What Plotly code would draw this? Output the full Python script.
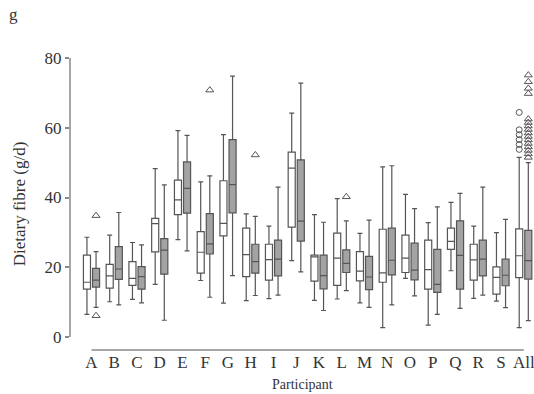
import plotly.graph_objects as go

# Participants and box statistics (g/d) for the two measurement series
participants = ["A", "B", "C", "D", "E", "F", "G", "H", "I", "J",
                "K", "L", "M", "N", "O", "P", "Q", "R", "S", "All"]

# Series 1 (white boxes)
w_low = [6.5, 10.1, 10.8, 15.1, 27.9, 16.2, 9.7, 10.4, 11.0, 21.9,
         10.5, 10.9, 9.8, 2.7, 16.8, 3.4, 19.0, 11.1, 10.3, 2.7]
w_q1 = [13.7, 14.0, 14.8, 24.4, 35.1, 18.3, 29.0, 17.3, 16.3, 31.5,
        16.0, 14.8, 16.1, 15.7, 18.5, 13.7, 25.1, 16.3, 12.3, 17.0]
w_med = [15.7, 17.5, 16.8, 32.5, 39.3, 24.3, 32.6, 23.6, 22.2, 48.4,
         23.0, 22.6, 18.9, 18.4, 22.6, 19.3, 27.4, 22.1, 17.1, 23.3]
w_q3 = [23.5, 20.8, 21.6, 34.0, 45.0, 30.2, 44.8, 31.2, 26.6, 53.0,
        23.5, 29.8, 24.5, 30.9, 29.2, 27.8, 31.2, 26.6, 20.1, 31.0]
w_high = [28.6, 29.2, 27.1, 48.3, 59.2, 44.5, 58.0, 35.3, 31.8, 64.2,
          35.1, 39.7, 29.7, 48.8, 40.9, 32.8, 38.6, 31.8, 29.9, 51.5]

# Series 2 (grey boxes)
g_low = [8.5, 9.2, 9.8, 4.8, 24.7, 11.4, 17.6, 11.9, 12.0, 18.7,
         7.6, 13.3, 8.5, 9.2, 11.8, 6.5, 8.2, 12.0, 8.4, 4.7]
g_q1 = [14.3, 16.5, 13.7, 18.0, 35.5, 23.8, 35.6, 18.3, 17.5, 27.5,
        13.8, 18.5, 13.6, 17.8, 16.4, 12.8, 13.7, 17.5, 14.7, 16.6]
g_med = [16.3, 19.5, 17.3, 24.9, 42.6, 26.7, 43.7, 21.6, 22.3, 33.2,
         17.6, 21.1, 17.2, 22.0, 19.2, 15.1, 23.4, 22.3, 17.7, 21.9]
g_q3 = [19.7, 25.9, 20.2, 28.2, 50.2, 35.4, 56.6, 26.6, 27.8, 50.8,
        23.5, 25.0, 23.1, 31.2, 26.9, 25.1, 33.3, 27.8, 22.3, 30.6]
g_high = [24.5, 35.7, 26.4, 43.6, 57.8, 46.2, 74.8, 34.6, 43.0, 72.8,
          32.9, 33.3, 33.5, 49.1, 36.8, 37.3, 41.2, 43.0, 33.7, 50.0]

# Outlying observations: (participant, value)
w_outliers = [("All", v) for v in [64.4, 59.4, 58.0, 56.6, 55.2, 53.8]]
g_outliers = ([("A", 34.8), ("A", 6.1), ("F", 70.8), ("H", 52.2), ("L", 40.2)]
              + [("All", v) for v in [75.1, 73.2, 71.3, 69.8, 62.5, 61.5, 60.5,
                                       59.5, 58.5, 57.5, 56.5, 55.5, 54.5,
                                       53.5, 52.5, 51.5]])

FONT = "Liberation Serif"
LINE = "#555555"
GREY_FILL = "#a3a3a3"
AXIS = "#8a8a8a"
SHIFT = 0.2      # horizontal offset of each series from the category centre
BOX_W = 0.31

idx = list(range(len(participants)))
pos = {p: i for i, p in enumerate(participants)}

fig = go.Figure()


def add_series(low, q1, med, q3, high, shift, fill):
    fig.add_trace(go.Box(
        x=[i + shift for i in idx],
        lowerfence=low, q1=q1, median=med, q3=q3, upperfence=high,
        width=BOX_W, whiskerwidth=0.7,
        fillcolor=fill, line=dict(color=LINE, width=1.2),
        boxpoints=False, showlegend=False, hoverinfo="skip",
    ))


add_series(w_low, w_q1, w_med, w_q3, w_high, -SHIFT, "white")
add_series(g_low, g_q1, g_med, g_q3, g_high, SHIFT, GREY_FILL)

fig.add_trace(go.Scatter(
    x=[pos[p] - SHIFT for p, _ in w_outliers], y=[v for _, v in w_outliers],
    mode="markers",
    marker=dict(symbol="circle-open", size=6, color=LINE, line=dict(width=1)),
    showlegend=False, hoverinfo="skip",
))
fig.add_trace(go.Scatter(
    x=[pos[p] + SHIFT for p, _ in g_outliers], y=[v for _, v in g_outliers],
    mode="markers",
    marker=dict(symbol="triangle-up-open", size=7, color=LINE, line=dict(width=1)),
    showlegend=False, hoverinfo="skip",
))

# Detached axis lines: y from 0 to 80, x from first to last participant
fig.add_shape(type="line", xref="paper", yref="y", x0=0, x1=0, y0=0, y1=80,
              line=dict(color=AXIS, width=1.5))
fig.add_shape(type="line", xref="x", yref="paper", x0=idx[0], x1=idx[-1],
              y0=0, y1=0, line=dict(color=AXIS, width=1.5))

fig.add_annotation(text="g", xref="paper", yref="paper", x=-0.135, y=1.15,
                   xanchor="left", yanchor="middle", showarrow=False,
                   font=dict(family=FONT, size=17, color="#333"))
fig.add_annotation(text="Participant", xref="paper", yref="paper",
                   x=0.5, y=-0.118, xanchor="center", yanchor="middle",
                   showarrow=False, font=dict(family=FONT, size=14, color="#333"))

fig.update_layout(
    width=534, height=394,
    margin=dict(l=70, r=0, t=58, b=44),
    paper_bgcolor="white", plot_bgcolor="white",
    font=dict(family=FONT, size=16, color="#333"),
    xaxis=dict(
        range=[-0.945, 19.45], tickmode="array", tickvals=idx,
        ticktext=participants, showgrid=False, zeroline=False,
        showline=False, ticks="",
        tickfont=dict(size=17), ticklabeloverflow="allow",
    ),
    yaxis=dict(
        range=[-3.73, 80], tickvals=[0, 20, 40, 60, 80],
        showgrid=False, zeroline=False, showline=False,
        ticks="outside", ticklen=4, tickcolor=AXIS, tickwidth=1.5,
        tickfont=dict(size=17),
        title=dict(text="Dietary fibre (g/d)", font=dict(size=17), standoff=14),
    ),
)

fig.write_html("out.html")
